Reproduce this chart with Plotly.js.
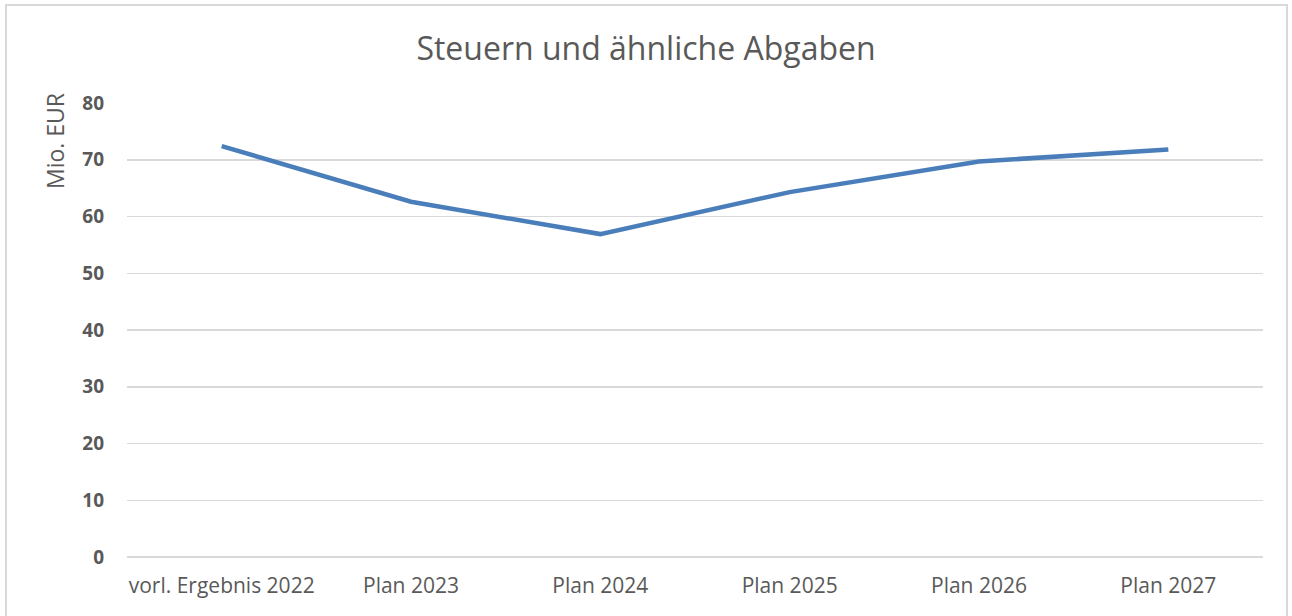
<!DOCTYPE html>
<html>
<head>
<meta charset="utf-8">
<script src="https://cdn.plot.ly/plotly-3.0.1.min.js"></script>
<style>
html,body{margin:0;padding:0;background:#fff;}
#wrap{position:relative;width:1292px;height:616px;overflow:hidden;}
#chart{width:1292px;height:616px;}
#frame{position:absolute;left:5px;top:4px;width:1283px;height:640px;border:2px solid #d9d9d9;box-sizing:border-box;pointer-events:none;}
</style>
</head>
<body>
<div id="wrap"><div id="chart"></div><div id="frame"></div></div>
<script>
const categories = ["vorl. Ergebnis 2022", "Plan 2023", "Plan 2024", "Plan 2025", "Plan 2026", "Plan 2027"];
const values = [72.4, 62.6, 56.9, 64.3, 69.7, 71.8];
const yTicks = [0, 10, 20, 30, 40, 50, 60, 70, 80];

const trace = {
  x: categories,
  y: values,
  type: 'scatter',
  mode: 'lines',
  line: {color: '#4a7ebb', width: 4.5},
  hoverinfo: 'x+y'
};

const FONT = 'Open Sans, sans-serif';

const layout = {
  width: 1292,
  height: 616,
  margin: {l: 127, r: 29, t: 103, b: 59},
  paper_bgcolor: '#ffffff',
  plot_bgcolor: '#ffffff',
  showlegend: false,
  title: {
    text: 'Steuern und ähnliche Abgaben',
    font: {family: FONT, size: 32, color: '#595959'},
    x: 0.5, xanchor: 'center',
    y: 1 - 49/616, yanchor: 'middle', yref: 'container'
  },
  xaxis: {
    type: 'category',
    range: [-0.5, 5.5],
    showgrid: false,
    zeroline: false,
    showline: false,
    ticks: '',
    ticklabelstandoff: 14,
    tickfont: {family: FONT, size: 21, color: '#595959'},
    automargin: false
  },
  yaxis: {
    range: [0, 80],
    tickvals: yTicks,
    ticktext: yTicks.map(String),
    showgrid: true,
    gridcolor: '#d9d9d9',
    gridwidth: 1.5,
    zeroline: true,
    zerolinecolor: '#d9d9d9',
    zerolinewidth: 1.5,
    showline: false,
    ticks: '',
    ticklabelstandoff: 22,
    tickfont: {family: FONT, size: 19, color: '#595959', weight: 'bold'},
    automargin: false
  },
  annotations: [{
    text: 'Mio. EUR',
    xref: 'paper', yref: 'paper',
    x: (55 - 127) / 1136, y: (556.7 - 141) / 453.7,
    xanchor: 'center', yanchor: 'middle',
    textangle: -90,
    showarrow: false,
    font: {family: FONT, size: 23, color: '#595959'}
  }]
};

Plotly.newPlot('chart', [trace], layout, {displayModeBar: false, staticPlot: true});
</script>
</body>
</html>
